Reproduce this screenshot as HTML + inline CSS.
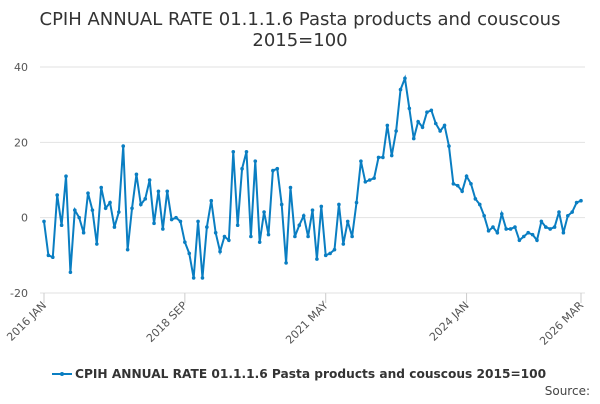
<!DOCTYPE html>
<html><head><meta charset="utf-8"><style>
body{margin:0;background:#fff;font-family:"DejaVu Sans",sans-serif;}
svg text{font-family:"DejaVu Sans","Liberation Sans",sans-serif;}
</style></head><body>
<svg id="chart" width="600" height="400">
<text x="300" y="25" text-anchor="middle" font-size="18" fill="#333">CPIH ANNUAL RATE 01.1.1.6 Pasta products and couscous</text>
<text x="300" y="46" text-anchor="middle" font-size="18" fill="#333">2015=100</text>
<g id="grid"></g><g id="xaxis"></g><g id="series"></g>
<g>
<line x1="52" y1="374" x2="72" y2="374" stroke="#0a7ec2" stroke-width="2"/>
<circle cx="62" cy="374" r="2" fill="#0a7ec2"/>
<text x="75" y="378" font-size="12.2" font-weight="bold" fill="#333">CPIH ANNUAL RATE 01.1.1.6 Pasta products and couscous 2015=100</text>
</g>
<text x="590" y="395" text-anchor="end" font-size="12" fill="#444">Source:</text>
</svg>
<script>
const values=[-1,-10,-10.5,6,-2,11,-14.5,2,0,-4,6.5,2,-7,8,2.5,4,-2.5,1.5,19,-8.5,2.5,11.5,3.5,5,10,-1.5,7,-3,7,-0.5,0,-1,-6.5,-9.5,-16,-1,-16,-2.5,4.5,-4,-9,-5,-6,17.5,-2,13,17.5,-5,15,-6.5,1.5,-4.5,12.5,13,3.5,-12,8,-5,-2,0.5,-5,2,-11,3,-10,-9.5,-8.5,3.5,-7,-1,-5,4,15,9.5,10,10.5,16,16,24.5,16.5,23,34,37,29,21,25.5,24,28,28.5,25,23,24.5,19,9,8.5,7,11,9,5,3.5,0.5,-3.5,-2.5,-4,1,-3,-3,-2.5,-6,-5,-4,-4.5,-6,-1,-2.5,-3,-2.5,1.5,-4,0.5,1.5,4,4.5];
const yTicks=[-20,0,20,40];
const xTickLabels=["2016 JAN","2018 SEP","2021 MAY","2024 JAN","2026 MAR"];
const xTickIdx=[0,32,64,96,122];
const NS="http://www.w3.org/2000/svg";
const x0=44,x1=581,yTop=67,yBot=293;
function xs(i){return x0+(x1-x0)*i/(values.length-1);}
function ys(v){return yBot-(v+20)/60*(yBot-yTop);}
function mk(t,a,p){const e=document.createElementNS(NS,t);for(const k in a)e.setAttribute(k,a[k]);p.appendChild(e);return e;}
const grid=document.getElementById('grid');
yTicks.forEach(v=>{
 const l=mk('line',{x1:40,x2:585,y1:ys(v),y2:ys(v),stroke:'#e2e2e2','stroke-width':1},grid);
 
 
 const t=mk('text',{x:28,y:ys(v)+4,'text-anchor':'end','font-size':11,fill:'#555'},grid);
 t.textContent=v;
 
 
});
const xa=document.getElementById('xaxis');
xTickIdx.forEach((idx,k)=>{
 const x=xs(idx);
 const tk=mk('line',{x1:x,x2:x,y1:293,y2:303,stroke:'#ccc'},xa);
 
 
 const t=mk('text',{x:x+3,y:306,'text-anchor':'end','font-size':11,fill:'#555',transform:`rotate(-45 ${x+3} 306)`},xa);
 t.textContent=xTickLabels[k];
 
 
});
const s=document.getElementById('series');
const pl=mk('polyline',{points:values.map((v,i)=>xs(i)+','+ys(v)).join(' '),fill:'none',stroke:'#0a7ec2','stroke-width':2},s);


values.forEach((v,i)=>{
 const c=mk('circle',{cx:xs(i),cy:ys(v),r:1.8,fill:'#0a7ec2'},s);
 
 
});
</script>
</body></html>
